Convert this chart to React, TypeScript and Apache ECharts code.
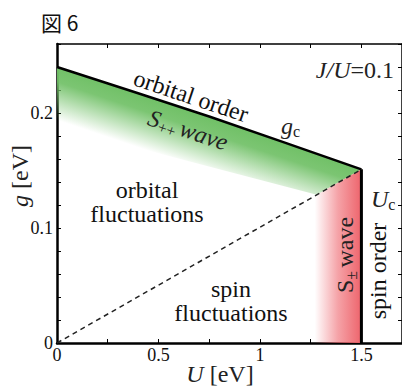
import React, { useEffect, useRef } from "react";
import * as echarts from "echarts";

// ---- data ----
const orbitalU = [0, 0.75, 1.5];
const orbitalG = [0.24, 0.197, 0.151];
const crossoverU = [0, 1.5];
const crossoverG = [0, 0.151];
const spinOrderU = [1.5, 1.5];
const spinOrderG = [0, 0.151];
const greenLowerU = [1.28, 0];
const greenLowerG = [0.129, 0.188];
const redStartU = 1.27;
const xTickLabels = ["0", "0.5", "1", "1.5"];
const yTickLabels = ["0", "0.1", "0.2"];

const SERIF = "'Liberation Serif', 'Times New Roman', serif";
const GREEN = [112, 192, 102];
const RED = [238, 100, 108];
const rgba = (c: number[], a: number) => `rgba(${c[0]},${c[1]},${c[2]},${a})`;

const zip = (a: number[], b: number[]) => a.map((v, i) => [v, b[i]]);

export default function App() {
  const ref = useRef<HTMLDivElement>(null);
  useEffect(() => {
    if (!ref.current) return;
    const chart = echarts.init(ref.current, undefined, { renderer: "svg" });

    const xFmt = (v: number) => {
      const s = String(Math.round(v * 100) / 100);
      return xTickLabels.includes(s) ? s : "";
    };
    const yFmt = (v: number) => {
      const s = String(Math.round(v * 1000) / 1000);
      return yTickLabels.includes(s) ? s : "";
    };

    const baseAxis = {
      type: "value" as const,
      splitLine: { show: false },
    };

    const T = (o: any) => ({ type: "text", z: 100, zlevel: 0, ...o });

    const option: any = {
      animation: false,
      backgroundColor: "#fff",
      grid: { left: 57, top: 44, right: -1, bottom: 44 },
      xAxis: [
        {
          ...baseAxis,
          position: "bottom",
          min: 0,
          max: 1.7,
          interval: 0.25,
          axisLine: { show: true, onZero: false, lineStyle: { color: "#000", width: 2.5 } },
          axisTick: { show: true, inside: true, length: 4, lineStyle: { color: "#000", width: 1 } },
          axisLabel: { formatter: xFmt, fontFamily: SERIF, fontSize: 18, color: "#111", margin: 3, showMaxLabel: false },
        },
        {
          ...baseAxis,
          position: "top",
          min: 0,
          max: 1.7,
          interval: 0.25,
          axisLine: { show: true, onZero: false, lineStyle: { color: "#000", width: 1.5 } },
          axisTick: { show: true, inside: true, length: 4, lineStyle: { color: "#000", width: 1 } },
          axisLabel: { show: false },
        },
      ],
      yAxis: [
        {
          ...baseAxis,
          position: "left",
          min: 0,
          max: 0.26,
          interval: 0.02,
          axisLine: { show: true, onZero: false, lineStyle: { color: "#000", width: 2.5 } },
          axisTick: { show: true, inside: true, length: 4, lineStyle: { color: "#000", width: 1 } },
          axisLabel: { formatter: yFmt, fontFamily: SERIF, fontSize: 18, color: "#111", margin: 4 },
        },
        {
          ...baseAxis,
          position: "right",
          min: 0,
          max: 0.26,
          interval: 0.02,
          axisLine: { show: true, onZero: false, lineStyle: { color: "#000", width: 1.5 } },
          axisTick: { show: true, inside: true, length: 4, lineStyle: { color: "#000", width: 1 } },
          axisLabel: { show: false },
        },
      ],
      series: [
        {
          type: "custom",
          name: "S++ wave",
          coordinateSystem: "cartesian2d",
          data: [[0, 0]],
          z: 1,
          silent: true,
          renderItem: (_p: any, api: any) => {
            const top = zip(orbitalU, orbitalG).map((d) => api.coord(d));
            const lower = zip(greenLowerU, greenLowerG).map((d) => api.coord(d));
            const pts = [...top, ...lower];
            const a = top[0];
            const b = top[top.length - 1];
            const dx = b[0] - a[0];
            const dy = b[1] - a[1];
            const len = Math.hypot(dx, dy);
            const nx = -dy / len;
            const ny = dx / len;
            const mid = top[1];
            const dist = 52;
            const grad = new echarts.graphic.LinearGradient(
              mid[0],
              mid[1],
              mid[0] + nx * dist,
              mid[1] + ny * dist,
              [
                { offset: 0, color: rgba(GREEN, 1) },
                { offset: 0.3, color: rgba(GREEN, 0.92) },
                { offset: 1, color: rgba(GREEN, 0) },
              ],
              true
            );
            return { type: "polygon", shape: { points: pts }, style: { fill: grad } };
          },
        },
        {
          type: "custom",
          name: "S± wave",
          coordinateSystem: "cartesian2d",
          data: [[0, 0]],
          z: 1,
          silent: true,
          renderItem: (_p: any, api: any) => {
            const uc = spinOrderU[1];
            const gc = spinOrderG[1];
            const gLeft = (gc * redStartU) / uc;
            const pts = [
              api.coord([redStartU, 0]),
              api.coord([uc, 0]),
              api.coord([uc, gc]),
              api.coord([redStartU, gLeft]),
            ];
            const grad = new echarts.graphic.LinearGradient(
              pts[0][0],
              0,
              pts[1][0],
              0,
              [
                { offset: 0, color: rgba(RED, 0) },
                { offset: 0.5, color: rgba(RED, 0.6) },
                { offset: 1, color: rgba(RED, 1) },
              ],
              true
            );
            return { type: "polygon", shape: { points: pts }, style: { fill: grad } };
          },
        },
        {
          type: "line",
          name: "orbital order",
          data: zip(orbitalU, orbitalG),
          symbol: "none",
          smooth: 0.2,
          z: 3,
          lineStyle: { color: "#000", width: 2.5 },
        },
        {
          type: "line",
          name: "crossover",
          data: zip(crossoverU, crossoverG),
          symbol: "none",
          z: 3,
          lineStyle: { color: "#222", width: 1.5, type: [5, 4] },
        },
        {
          type: "line",
          name: "spin order",
          data: zip(spinOrderU, spinOrderG),
          symbol: "none",
          z: 3,
          lineStyle: { color: "#000", width: 3 },
        },
      ],
      graphic: {
        elements: [
          T({
            x: 41,
            y: 22,
            style: {
              text: "図 6",
              fontFamily: "'Noto Sans CJK JP', sans-serif",
              fontSize: 21,
              fill: "#111",
              align: "left",
              verticalAlign: "middle",
            },
          }),
          T({
            x: 394,
            y: 70,
            style: {
              text: "{i|J/U}{n|=0.1}",
              align: "right",
              verticalAlign: "middle",
              rich: {
                i: { fontFamily: SERIF, fontSize: 24, fontStyle: "italic", fill: "#222" },
                n: { fontFamily: SERIF, fontSize: 24, fill: "#222" },
              },
            },
          }),
          T({
            x: 191,
            y: 96,
            rotation: -0.323,
            style: {
              text: "orbital order",
              fontFamily: SERIF,
              fontSize: 24,
              fill: "#111",
              align: "center",
              verticalAlign: "middle",
            },
          }),
          T({
            x: 188,
            y: 130,
            rotation: -0.323,
            style: {
              text: "{i|S}{s|++} {i|wave}",
              align: "center",
              verticalAlign: "middle",
              rich: {
                i: { fontFamily: SERIF, fontSize: 24, fontStyle: "italic", fill: "#222", lineHeight: 28 },
                s: { fontFamily: SERIF, fontSize: 16, fill: "#222", verticalAlign: "bottom", lineHeight: 20 },
              },
            },
          }),
          T({
            x: 281,
            y: 126,
            style: {
              text: "{i|g}{s|c}",
              align: "left",
              verticalAlign: "middle",
              rich: {
                i: { fontFamily: SERIF, fontSize: 24, fontStyle: "italic", fill: "#222", lineHeight: 26 },
                s: { fontFamily: SERIF, fontSize: 16, fill: "#222", verticalAlign: "bottom", lineHeight: 18 },
              },
            },
          }),
          T({
            x: 371,
            y: 199,
            style: {
              text: "{i|U}{s|c}",
              align: "left",
              verticalAlign: "middle",
              rich: {
                i: { fontFamily: SERIF, fontSize: 24, fontStyle: "italic", fill: "#222", lineHeight: 26 },
                s: { fontFamily: SERIF, fontSize: 16, fill: "#222", verticalAlign: "bottom", lineHeight: 18 },
              },
            },
          }),
          T({
            x: 147,
            y: 202,
            style: {
              text: "orbital\nfluctuations",
              fontFamily: SERIF,
              fontSize: 24,
              lineHeight: 24,
              fill: "#111",
              align: "center",
              verticalAlign: "middle",
            },
          }),
          T({
            x: 231,
            y: 301,
            style: {
              text: "spin\nfluctuations",
              fontFamily: SERIF,
              fontSize: 24,
              lineHeight: 24,
              fill: "#111",
              align: "center",
              verticalAlign: "middle",
            },
          }),
          T({
            x: 345,
            y: 255,
            rotation: Math.PI / 2,
            style: {
              text: "{n|S}{s|±} {n|wave}",
              align: "center",
              verticalAlign: "middle",
              rich: {
                n: { fontFamily: SERIF, fontSize: 24, fill: "#222", lineHeight: 28 },
                s: { fontFamily: SERIF, fontSize: 16, fill: "#222", verticalAlign: "bottom", lineHeight: 20 },
              },
            },
          }),
          T({
            x: 378,
            y: 271,
            rotation: Math.PI / 2,
            style: {
              text: "spin order",
              fontFamily: SERIF,
              fontSize: 24,
              fill: "#111",
              align: "center",
              verticalAlign: "middle",
            },
          }),
          T({
            x: 220,
            y: 374,
            style: {
              text: "{i|U} [eV]",
              align: "center",
              verticalAlign: "middle",
              fontFamily: SERIF,
              fontSize: 24,
              fill: "#222",
              rich: {
                i: { fontFamily: SERIF, fontSize: 24, fontStyle: "italic", fill: "#222" },
              },
            },
          }),
          T({
            x: 20,
            y: 176,
            rotation: Math.PI / 2,
            style: {
              text: "{i|g} [eV]",
              align: "center",
              verticalAlign: "middle",
              fontFamily: SERIF,
              fontSize: 24,
              fill: "#222",
              rich: {
                i: { fontFamily: SERIF, fontSize: 24, fontStyle: "italic", fill: "#222" },
              },
            },
          }),
        ],
      },
    };

    chart.setOption(option);
    return () => chart.dispose();
  }, []);

  return (
    <div
      ref={ref}
      style={{ position: "fixed", left: 0, top: 0, width: 402, height: 387, background: "#fff" }}
    />
  );
}
